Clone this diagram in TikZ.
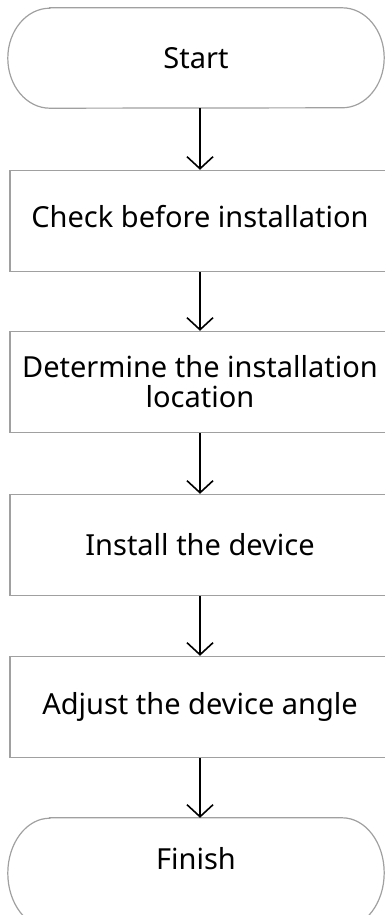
\documentclass[tikz,border=0pt]{standalone}
\usepackage{fontspec}
\setmainfont{Noto Sans}
\usetikzlibrary{arrows.meta}
\definecolor{boxgray}{HTML}{A0A0A0}
\tikzset{
  stepbox/.style={draw=boxgray, line width=1.4pt, minimum width=380pt, minimum height=101pt,
    inner sep=0pt, align=center, font=\fontsize{29}{30}\selectfont},
  term/.style={minimum width=376pt, minimum height=100pt, inner sep=0pt,
    font=\fontsize{29}{30}\selectfont},
  termline/.style={draw=boxgray, line width=1.2pt},
  flow/.style={-{Straight Barb[length=12pt,width=26pt]}, line width=1.6pt}
}
% #1 node, #2 half height
\newcommand\termoutline[2]{%
  \draw[termline] ([xshift=42pt]#1.north west) -- ([xshift=-42pt]#1.north east)
    arc[start angle=90, end angle=-90, x radius=42pt, y radius=#2]
    -- ([xshift=42pt]#1.south west)
    arc[start angle=270, end angle=90, x radius=42pt, y radius=#2] -- cycle;}

\begin{document}
\begin{tikzpicture}[x=1pt, y=1pt]
  \useasboundingbox (0,0) rectangle (385,-915);
  \clip (0,0) rectangle (385,-915);
  % terminals
  \node[term] (start) at (196,-58) {Start};
  \termoutline{start}{50pt}
  \node[term, minimum height=110pt, text depth=30pt] (finish) at (196,-873) {Finish};
  \termoutline{finish}{55pt}
  % steps
  \node[stepbox, text depth=10pt] (check) at (200,-221) {Check before installation};
  \node[stepbox] (locate) at (200,-382) {Determine the installation\\location};
  \node[stepbox] (install) at (200,-545) {Install the device};
  \node[stepbox] (adjust) at (200,-707) {Adjust the device angle};
  % arrows
  \draw[flow] (start.south -| check.north) -- (check.north);
  \draw[flow] (check) -- (locate);
  \draw[flow] (locate) -- (install);
  \draw[flow] (install) -- (adjust);
  \draw[flow] (adjust.south) -- (adjust.south |- finish.north);
\end{tikzpicture}
\end{document}
